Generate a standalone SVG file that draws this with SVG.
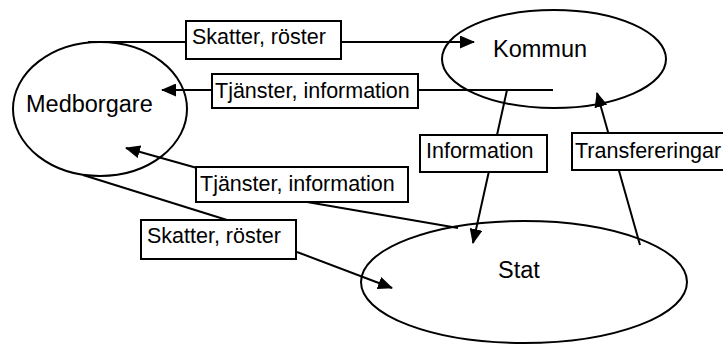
<svg xmlns="http://www.w3.org/2000/svg" width="723" height="344" viewBox="0 0 723 344">
  <defs>
    <style>
      .node { fill: none; stroke: #000; stroke-width: 2; }
      .edge { fill: none; stroke: #000; stroke-width: 2; }
      .lbox { fill: #fff; stroke: #000; stroke-width: 2; }
      .ntext { font-family: "Liberation Sans", Arial, sans-serif; font-size: 23.5px; fill: #000; }
      .ltext { font-family: "Liberation Sans", Arial, sans-serif; font-size: 21.5px; fill: #000; }
    </style>
    <marker id="arrow" markerUnits="userSpaceOnUse" markerWidth="15" markerHeight="13" refX="14" refY="6.5" orient="auto">
      <path d="M0,0 L15,6.5 L0,13 z" fill="#000"/>
    </marker>
  </defs>
  <rect width="723" height="344" fill="#fff"/>

  <g id="medborgare">
    <ellipse class="node" cx="100" cy="109" rx="87" ry="67"/>
    <text class="ntext" x="26" y="112">Medborgare</text>
  </g>
  <g id="kommun">
    <ellipse class="node" cx="554" cy="59" rx="112" ry="49"/>
    <text class="ntext" x="493" y="57">Kommun</text>
  </g>
  <g id="stat">
    <ellipse class="node" cx="524" cy="282" rx="163" ry="61"/>
    <text class="ntext" x="498" y="278">Stat</text>
  </g>

  <g id="connectors">
    <line class="edge" x1="88" y1="42" x2="474" y2="42" marker-end="url(#arrow)"/>
    <line class="edge" x1="553" y1="90" x2="162" y2="90" marker-end="url(#arrow)"/>
    <line class="edge" x1="507" y1="90" x2="473" y2="243" marker-end="url(#arrow)"/>
    <line class="edge" x1="640" y1="245" x2="597" y2="93" marker-end="url(#arrow)"/>
    <line class="edge" x1="197" y1="168" x2="126" y2="148" marker-end="url(#arrow)"/>
    <line class="edge" x1="307" y1="202" x2="458" y2="228"/>
    <line class="edge" x1="83" y1="175" x2="227" y2="220"/>
    <line class="edge" x1="297" y1="252" x2="392" y2="288" marker-end="url(#arrow)"/>
  </g>

  <g id="label-skatter-kommun">
    <rect class="lbox" x="186" y="21" width="155" height="38"/>
    <text class="ltext" x="192" y="44">Skatter, röster</text>
  </g>
  <g id="label-tjanster-kommun">
    <rect class="lbox" x="212" y="74" width="206" height="34"/>
    <text class="ltext" x="215" y="98">Tjänster, information</text>
  </g>
  <g id="label-tjanster-stat">
    <rect class="lbox" x="196" y="167" width="212" height="35"/>
    <text class="ltext" x="200" y="191">Tjänster, information</text>
  </g>
  <g id="label-skatter-stat">
    <rect class="lbox" x="141" y="220" width="155" height="39"/>
    <text class="ltext" x="147" y="243">Skatter, röster</text>
  </g>
  <g id="label-information">
    <rect class="lbox" x="420" y="135" width="127" height="37"/>
    <text class="ltext" x="426" y="158">Information</text>
  </g>
  <g id="label-transfereringar">
    <rect class="lbox" x="572" y="133" width="152" height="37"/>
    <text class="ltext" x="575" y="158">Transfereringar</text>
  </g>
</svg>
